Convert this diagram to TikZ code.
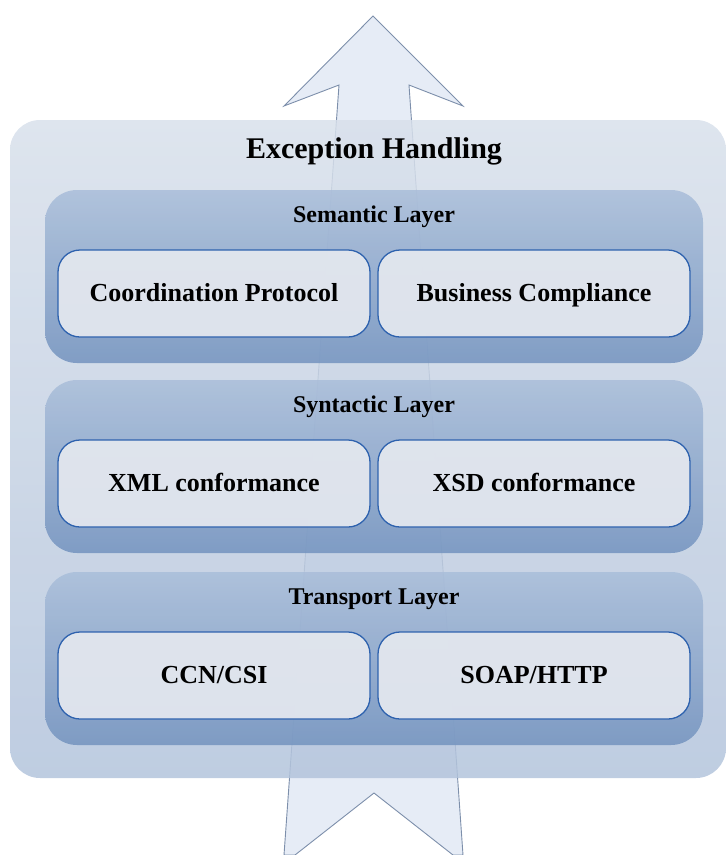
\documentclass[tikz,border=0pt]{standalone}
\usepackage{fontspec}
\setmainfont{Liberation Serif}
\usetikzlibrary{positioning}

\definecolor{arrowfill}{HTML}{E6ECF6}
\definecolor{arrowline}{HTML}{7D8FAB}
\definecolor{outertop}{HTML}{D8E0EB}
\definecolor{outerbot}{HTML}{B3C4DC}
\definecolor{layertop}{HTML}{A9BDD9}
\definecolor{layerbot}{HTML}{7393BF}
\definecolor{itemfill}{HTML}{E4E8EF}
\definecolor{itemline}{HTML}{2E62AE}

\tikzset{
  outerbox/.style={inner sep=0pt,outer sep=0pt,rounded corners=30pt,
    top color=outertop,bottom color=outerbot,fill opacity=0.85,
    minimum width=716pt,minimum height=658pt},
  layerbox/.style={inner sep=0pt,outer sep=0pt,rounded corners=32pt,
    top color=layertop,bottom color=layerbot,fill opacity=0.85,
    minimum width=658pt,minimum height=173pt},
  itembox/.style={draw=itemline,line width=1.3pt,fill=itemfill,fill opacity=0.93,
    text opacity=1,rounded corners=22pt,inner sep=0pt,outer sep=0pt,
    minimum width=312pt,minimum height=87pt,text height=17pt,text depth=2pt,
    font=\fontsize{26}{29}\selectfont\bfseries},
  layerlabel/.style={anchor=base,font=\fontsize{24}{27}\selectfont\bfseries},
  titlelabel/.style={anchor=base,font=\fontsize{30}{33}\selectfont\bfseries}
}

\begin{document}
\begin{tikzpicture}[x=1pt,y=-1pt]
  \useasboundingbox (0,0) rectangle (726,855);
  % big arrow behind the stack
  \draw[arrowline,fill=arrowfill,line width=0.9pt,line join=miter]
    (373,16) -- (463,106) -- (409,85) -- (463,855) -- (453,855) -- (374,793)
    -- (295,855) -- (284,855) -- (339,85) -- (284,106) -- cycle;
  % frame
  \node[outerbox] (exc) at (368,449) {};
  \node[titlelabel] (title) at (374,158) {Exception Handling};
  % layers
  \node[layerbox] (sem) at (374,276.5) {};
  \node[layerbox] (syn) at (374,466.5) {};
  \node[layerbox] (tra) at (374,658.5) {};
  \node[layerlabel] (semlbl) at (374,222) {Semantic Layer};
  \node[layerlabel] (synlbl) at (374,412) {Syntactic Layer};
  \node[layerlabel] (tralbl) at (374,604) {Transport Layer};
  % items
  \node[itembox] (coord) at (214,293.5) {Coordination Protocol};
  \node[itembox] (busi) at (534,293.5) {Business Compliance};
  \node[itembox] (xml) at (214,483.5) {XML conformance};
  \node[itembox] (xsd) at (534,483.5) {XSD conformance};
  \node[itembox] (ccn) at (214,675.5) {CCN/CSI};
  \node[itembox] (soap) at (534,675.5) {SOAP/HTTP};
\end{tikzpicture}
\end{document}
